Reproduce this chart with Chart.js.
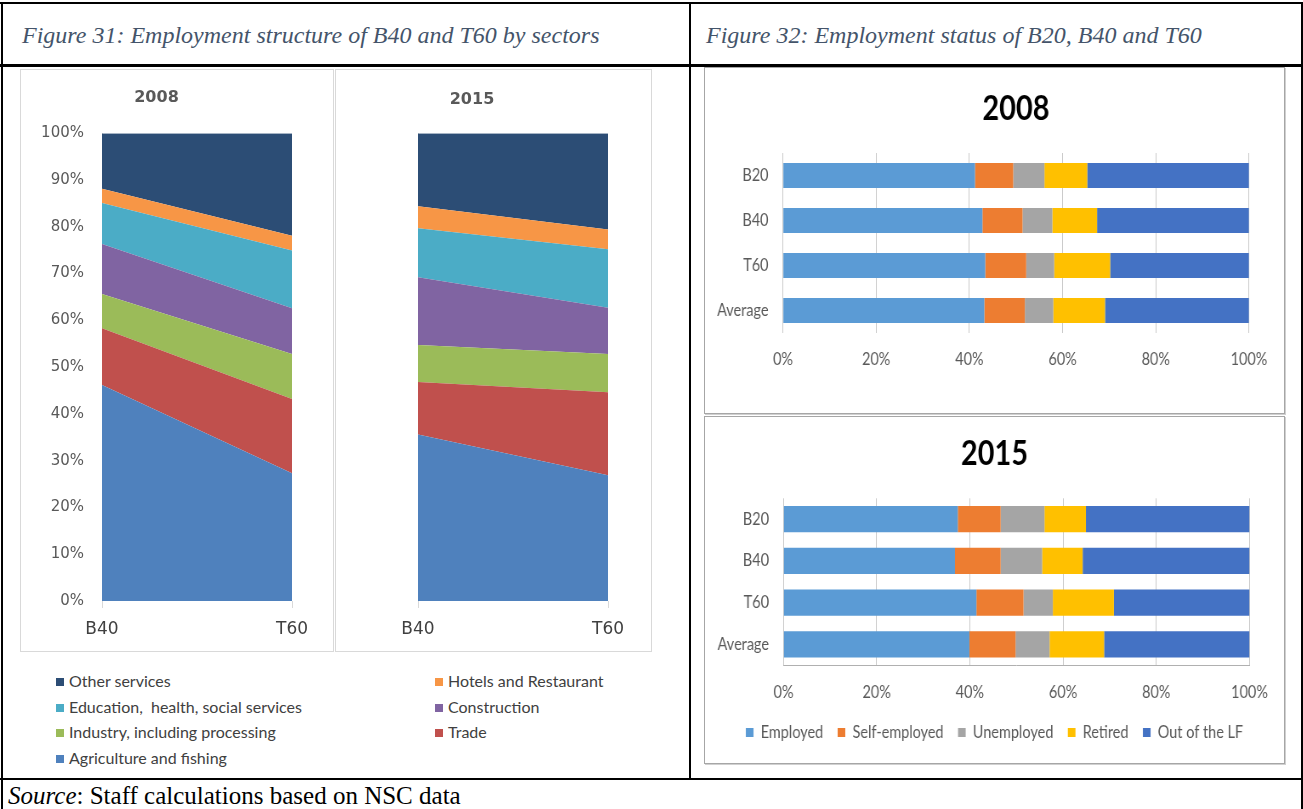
<!DOCTYPE html>
<html><head><meta charset="utf-8">
<script src="https://cdn.jsdelivr.net/npm/chart.js@4.4.1/dist/chart.umd.min.js"></script>
<style>
html,body{margin:0;padding:0;background:#fff}
body{width:1303px;height:809px;position:relative;overflow:hidden}
.k{position:absolute;background:#000}
.hdr{position:absolute;font-family:'Liberation Serif','Times New Roman',serif;font-style:italic;font-size:24px;color:#44546A;white-space:nowrap;line-height:24px}
.src{position:absolute;font-family:'Liberation Serif','Times New Roman',serif;font-size:25px;color:#000;white-space:nowrap;line-height:25px}
.panel{position:absolute;border:1px solid #D9D9D9;box-sizing:border-box}
.box{position:absolute;border:1px solid #A6A6A6;box-sizing:border-box;box-shadow:1px 1px 0 #D0D0D0}
canvas{position:absolute}
canvas.sx{transform-origin:0 0}
.lg{position:absolute;font-family:Lato,'Liberation Sans',sans-serif;font-size:16px;color:#404040;white-space:pre;line-height:16px}
.lg span.m{display:inline-block;width:8px;height:8px;margin-right:5px;vertical-align:1px}
</style></head><body>

<!-- table grid -->
<div class="k" style="left:0;top:2px;width:1303px;height:2px"></div>
<div class="k" style="left:1px;top:2px;width:2px;height:807px"></div>
<div class="k" style="left:1301px;top:2px;width:2px;height:807px"></div>
<div class="k" style="left:689px;top:2px;width:2px;height:778px"></div>
<div class="k" style="left:0;top:64px;width:1303px;height:3px"></div>
<div class="k" style="left:0;top:778px;width:1303px;height:2px"></div>

<div class="hdr" style="left:22px;top:23px">Figure 31: Employment structure of B40 and T60 by sectors</div>
<div class="hdr" style="left:706px;top:23px">Figure 32: Employment status of B20, B40 and T60</div>
<div class="src" style="left:8px;top:783px"><i>Source</i>: Staff calculations based on NSC data</div>

<div class="panel" style="left:20px;top:69px;width:314px;height:583px"></div>
<div class="panel" style="left:335px;top:69px;width:317px;height:583px"></div>
<canvas id="c31a" width="312" height="580" style="left:21px;top:70px"></canvas>
<canvas id="c31b" width="315" height="580" style="left:336px;top:70px"></canvas>
<div id="legend31"></div>

<div class="box" style="left:704px;top:67px;width:581px;height:347px"></div>
<div class="box" style="left:704px;top:416px;width:581px;height:348px"></div>
<canvas id="c32a" class="sx" width="681" height="345" style="left:705px;top:68px"></canvas>
<canvas id="c32b" class="sx" width="681" height="346" style="left:705px;top:417px"></canvas>

<script>
// ---------- Figure 31 data (share of employment, %) ----------
const groups31 = ['B40', 'T60'];
const sectorNames = ['Agriculture and fishing', 'Trade', 'Industry, including processing', 'Construction',
  'Education,  health, social services', 'Hotels and Restaurant', 'Other services'];
const sectorColors = ['#4F81BD', '#C0504D', '#9BBB59', '#8064A2', '#4BACC6', '#F79646', '#2C4D75'];
const agriculture2008 = [46.2, 27.3];
const trade2008 = [12.1, 15.9];
const industry2008 = [7.3, 9.6];
const construction2008 = [10.7, 9.8];
const education2008 = [8.8, 12.3];
const hotels2008 = [3.0, 3.2];
const otherServices2008 = [11.9, 21.9];
const agriculture2015 = [35.6, 26.9];
const trade2015 = [11.2, 17.7];
const industry2015 = [7.9, 8.2];
const construction2015 = [14.5, 9.9];
const education2015 = [10.5, 12.5];
const hotels2015 = [4.7, 4.2];
const otherServices2015 = [15.6, 20.6];
const yTicks31 = [0, 10, 20, 30, 40, 50, 60, 70, 80, 90, 100];
const legendOrder31 = ['Other services', 'Hotels and Restaurant', 'Education,  health, social services',
  'Construction', 'Industry, including processing', 'Trade', 'Agriculture and fishing'];

// ---------- Figure 32 data (%) ----------
const groups32 = ['B20', 'B40', 'T60', 'Average'];
const statusNames = ['Employed', 'Self-employed', 'Unemployed', 'Retired', 'Out of the LF'];
const statusColors = ['#5B9BD5', '#ED7D31', '#A5A5A5', '#FFC000', '#4472C4'];
const employed2008 = [41.2, 42.8, 43.4, 43.2];
const selfEmployed2008 = [8.2, 8.6, 8.8, 8.7];
const unemployed2008 = [6.7, 6.4, 6.0, 6.1];
const retired2008 = [9.2, 9.6, 12.0, 11.1];
const outOfLF2008 = [34.7, 32.6, 29.8, 30.9];
const employed2015 = [37.4, 36.8, 41.4, 39.9];
const selfEmployed2015 = [9.2, 9.8, 10.1, 9.9];
const unemployed2015 = [9.4, 8.9, 6.3, 7.3];
const retired2015 = [8.9, 8.7, 13.1, 11.7];
const outOfLF2015 = [35.1, 35.8, 29.1, 31.2];
const xTicks32 = [0, 20, 40, 60, 80, 100];

Chart.defaults.animation = false;
Chart.defaults.responsive = false;
Chart.defaults.devicePixelRatio = 1;

const areaFont = "'DejaVu Sans',Verdana,sans-serif";
const barFont = "Lato,'Liberation Sans',sans-serif";
const SX = 579 / 681; // horizontal condensing of the Figure 32 panels

function areaChart(id, title, series, showY, yWidth, padRight, titleTop) {
  const datasets = series.map((d, i) => ({
    label: sectorNames[i], data: d, backgroundColor: sectorColors[i],
    borderColor: 'rgba(0,0,0,0)', borderWidth: 0, pointRadius: 0, pointHoverRadius: 0,
    fill: i === 0 ? 'origin' : '-1', tension: 0
  }));
  return new Chart(document.getElementById(id), {
    type: 'line',
    data: { labels: groups31, datasets },
    options: {
      layout: { padding: { left: 0, right: padRight, top: 0, bottom: 0 } },
      plugins: {
        legend: { display: false }, tooltip: { enabled: false },
        title: { display: true, text: title, color: '#595959',
          font: { family: areaFont, size: 16, weight: 'bold', lineHeight: 1.2 },
          padding: { top: titleTop, bottom: 44 - titleTop } }
      },
      scales: {
        x: { type: 'category', offset: false,
          grid: { display: true, drawOnChartArea: false, drawTicks: true, tickLength: 7, color: '#D9D9D9' },
          border: { display: false },
          ticks: { color: '#404040', font: { family: areaFont, size: 17 }, padding: 11, maxRotation: 0 },
          afterFit: s => { s.height = 49; s.paddingLeft = 0; s.paddingRight = 0; } },
        y: { stacked: true, min: 0, max: 100,
          afterBuildTicks: s => { s.ticks = yTicks31.map(v => ({ value: v })); },
          grid: { display: false, drawTicks: false },
          border: { display: true, color: '#D9D9D9' },
          ticks: { display: showY, color: '#595959', font: { family: areaFont, size: 15 }, padding: 18,
            callback: v => v + '%' },
          afterFit: s => { s.width = yWidth; s.paddingTop = 0; s.paddingBottom = 0; } }
      }
    }
  });
}

areaChart('c31a', '2008', [agriculture2008, trade2008, industry2008, construction2008, education2008, hotels2008, otherServices2008], true, 81, 41, 18);
areaChart('c31b', '2015', [agriculture2015, trade2015, industry2015, construction2015, education2015, hotels2015, otherServices2015], false, 82, 43, 20);

// HTML legend for figure 31
(function () {
  const host = document.getElementById('legend31');
  legendOrder31.forEach((name, i) => {
    const col = i % 2, row = Math.floor(i / 2);
    const d = document.createElement('div');
    d.className = 'lg';
    d.style.left = (col ? 435 : 56) + 'px';
    d.style.top = (673 + row * 25.6) + 'px';
    const m = document.createElement('span');
    m.className = 'm';
    m.style.background = sectorColors[sectorNames.indexOf(name)];
    d.appendChild(m);
    d.appendChild(document.createTextNode(name));
    host.appendChild(d);
  });
})();

function barChart(id, title, series, o) {
  const datasets = series.map((d, i) => ({
    label: statusNames[i], data: d, backgroundColor: statusColors[i], borderWidth: 0,
    barPercentage: o.barPct, categoryPercentage: 1
  }));
  const cv = document.getElementById(id);
  const ch = new Chart(cv, {
    type: 'bar',
    data: { labels: groups32, datasets },
    options: {
      indexAxis: 'y',
      layout: { padding: { left: o.padLeft, right: o.padRight, top: 0, bottom: o.padBottom } },
      plugins: {
        tooltip: { enabled: false },
        legend: { display: o.legend, position: 'bottom',
          labels: { boxWidth: 9, boxHeight: 9, padding: 17, color: '#595959', font: { family: barFont, size: 17 } } },
        title: { display: true, text: title, color: '#000', fullSize: o.titleFull,
          font: { family: barFont, size: 34, weight: 'bold', lineHeight: 1.2 },
          padding: { top: o.titleTop, bottom: o.titleBottom } }
      },
      scales: {
        x: { stacked: true, min: 0, max: 100,
          afterBuildTicks: s => { s.ticks = xTicks32.map(v => ({ value: v })); },
          grid: { color: '#C8C8C8', drawTicks: false },
          border: { display: o.bottomLine, color: '#B0B0B0' },
          ticks: { color: '#595959', font: { family: barFont, size: 17 }, padding: o.xPad, callback: v => v + '%' },
          afterFit: s => { s.height = o.xHeight; s.paddingLeft = 0; s.paddingRight = 0; } },
        y: { stacked: true,
          grid: { display: false, drawTicks: false },
          border: { display: false },
          ticks: { color: '#595959', font: { family: barFont, size: 17 }, padding: 17 },
          afterFit: s => { s.width = o.yWidth; s.paddingTop = 0; s.paddingBottom = 0;
            s._computeLabelArea = () => undefined; } },
        yR: { type: 'category', position: 'right', display: o.rightGap > 0,
          ticks: { display: false }, grid: { display: false, drawTicks: false }, border: { display: false },
          afterFit: s => { s.width = o.rightGap; s.paddingTop = 0; s.paddingBottom = 0; } }
      }
    }
  });
  cv.style.transform = 'scaleX(' + SX + ')';
  return ch;
}

barChart('c32a', '2008', [employed2008, selfEmployed2008, unemployed2008, retired2008, outOfLF2008],
  { barPct: 0.556, padLeft: 0, padRight: 41.2, padBottom: 0, legend: false, titleFull: false, rightGap: 0,
    titleTop: 21, titleBottom: 23.2, xHeight: 80, xPad: 16, yWidth: 91.7, bottomLine: false });
barChart('c32b', '2015', [employed2015, selfEmployed2015, unemployed2015, retired2015, outOfLF2015],
  { barPct: 0.63, padLeft: 0, padRight: 0, padBottom: 12, legend: true, titleFull: true, rightGap: 40.6,
    titleTop: 17, titleBottom: 23.5, xHeight: 41.7, xPad: 17, yWidth: 92.3, bottomLine: true });
</script>
</body></html>
